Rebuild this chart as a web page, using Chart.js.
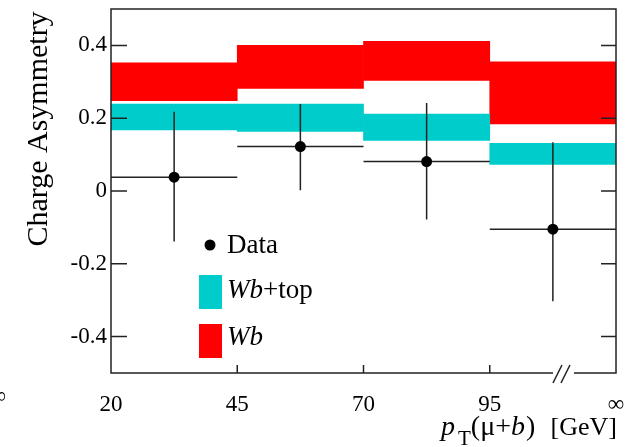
<!DOCTYPE html>
<html>
<head>
<meta charset="utf-8">
<script src="https://cdn.jsdelivr.net/npm/chart.js@4.4.1/dist/chart.umd.min.js"></script>
<style>
  html, body { margin: 0; padding: 0; background: #fff; }
  #wrap { width: 630px; height: 447px; position: relative; }
</style>
</head>
<body>
<div id="wrap"><canvas id="chart"></canvas></div>
<script>
// pT(mu+b) bins 20-45, 45-70, 70-95, 95-inf, drawn with equal width (0..4)
const binCenters = [0.5, 1.5, 2.5, 3.5];
const binHalfWidth = 0.5;
const xTickValues = [0, 1, 2, 3, 4];
const xTickLabels = ['20', '45', '70', '95', '∞'];
const yTickValues = [-0.4, -0.2, 0, 0.2, 0.4];

// measured charge asymmetry with errors
const dataValues = [0.038, 0.122, 0.081, -0.105];
const dataHigh = [0.218, 0.239, 0.242, 0.134];
const dataLow = [-0.139, 0.002, -0.078, -0.303];

// predictions (bands)
const wbLow = [0.248, 0.282, 0.304, 0.184];
const wbHigh = [0.352, 0.400, 0.411, 0.355];
const wbTopLow = [0.168, 0.164, 0.139, 0.073];
const wbTopHigh = [0.239, 0.239, 0.211, 0.131];

const FONT = "'Liberation Serif', 'DejaVu Serif', serif";
const LINE = '#222';
const RED = '#ff0000';
const CYAN = '#00cccc';

// error bars, frame, ticks, axis break, legend and titles
const decorations = {
    id: 'decorations',
    beforeDatasetDraw(chart, args) {
        if (args.index !== 0) return;
        const { ctx, scales: { x, y } } = chart;
        ctx.save();
        ctx.strokeStyle = LINE;
        ctx.lineWidth = 1.5;
        binCenters.forEach((c, i) => {
            const yc = y.getPixelForValue(dataValues[i]);
            const xc = x.getPixelForValue(c);
            ctx.beginPath();
            ctx.moveTo(x.getPixelForValue(c - binHalfWidth), yc);
            ctx.lineTo(x.getPixelForValue(c + binHalfWidth), yc);
            ctx.moveTo(xc, y.getPixelForValue(dataHigh[i]));
            ctx.lineTo(xc, y.getPixelForValue(dataLow[i]));
            ctx.stroke();
        });
        ctx.restore();
    },
    afterDraw(chart) {
        const { ctx, chartArea: a, scales: { x, y } } = chart;
        ctx.save();

        // frame
        ctx.strokeStyle = LINE;
        ctx.lineWidth = 1.5;
        ctx.strokeRect(a.left, a.top, a.right - a.left, a.bottom - a.top);

        // inward ticks
        ctx.beginPath();
        yTickValues.forEach(v => {
            const py = y.getPixelForValue(v);
            ctx.moveTo(a.left, py); ctx.lineTo(a.left + 16, py);
            ctx.moveTo(a.right, py); ctx.lineTo(a.right - 15, py);
        });
        xTickValues.slice(1, -1).forEach(v => {
            const px = x.getPixelForValue(v);
            ctx.moveTo(px, a.bottom); ctx.lineTo(px, a.bottom - 8);
        });
        ctx.stroke();

        // axis break "//"
        const bx = x.getPixelForValue(3.58);
        ctx.fillStyle = '#fff';
        ctx.fillRect(bx - 10, a.bottom - 2, 21, 4);
        ctx.beginPath();
        ctx.moveTo(bx - 10, a.bottom + 10); ctx.lineTo(bx - 1, a.bottom - 8);
        ctx.moveTo(bx - 2, a.bottom + 10); ctx.lineTo(bx + 7, a.bottom - 8);
        ctx.stroke();

        // legend
        ctx.fillStyle = '#000';
        ctx.beginPath();
        ctx.arc(210, 245, 5.5, 0, Math.PI * 2);
        ctx.fill();
        ctx.fillStyle = CYAN;
        ctx.fillRect(199, 275, 23, 34);
        ctx.fillStyle = RED;
        ctx.fillRect(199, 324, 23, 34);

        ctx.fillStyle = '#000';
        ctx.textBaseline = 'alphabetic';
        ctx.textAlign = 'left';
        ctx.font = `27px ${FONT}`;
        ctx.fillText('Data', 227, 253);
        ctx.font = `italic 27px ${FONT}`;
        ctx.fillText('Wb', 227, 298);
        const w = ctx.measureText('Wb').width;
        ctx.font = `27px ${FONT}`;
        ctx.fillText('+top', 227 + w, 298);
        ctx.font = `italic 27px ${FONT}`;
        ctx.fillText('Wb', 227, 345);

        // x title: p_T(mu+b) [GeV]
        const parts = [
            { t: 'p', f: `italic 28px ${FONT}`, dy: 0, gap: 3 },
            { t: 'T', f: `21px ${FONT}`, dy: 10, gap: 0 },
            { t: '(μ+', f: `28px ${FONT}`, dy: 0, gap: 0 },
            { t: 'b', f: `italic 28px ${FONT}`, dy: 0, gap: 1 },
            { t: ')', f: `28px ${FONT}`, dy: 0, gap: 0 }
        ];
        let px = 441;
        parts.forEach(p => {
            ctx.font = p.f;
            ctx.fillText(p.t, px, 435 + p.dy);
            px += ctx.measureText(p.t).width + p.gap;
        });
        ctx.font = `26px ${FONT}`;
        ctx.textAlign = 'right';
        ctx.fillText('[GeV]', a.right + 1, 435);

        // y title
        ctx.save();
        ctx.translate(47, 129);
        ctx.rotate(-Math.PI / 2);
        ctx.textAlign = 'center';
        ctx.font = `30px ${FONT}`;
        ctx.fillText('Charge Asymmetry', 0, 0);
        ctx.restore();

        // clipped label from the neighbouring panel
        ctx.font = `23px ${FONT}`;
        ctx.textAlign = 'right';
        ctx.fillText('∞', 6, 403);

        ctx.restore();
    }
};

const bandData = (lo, hi) => binCenters.map((c, i) => ({ x: c, y: [lo[i], hi[i]] }));

new Chart(document.getElementById('chart'), {
    type: 'scatter',
    data: {
        datasets: [
            {
                label: 'Data',
                data: binCenters.map((c, i) => ({ x: c, y: dataValues[i] })),
                pointRadius: 5.5,
                pointBackgroundColor: '#000',
                pointBorderWidth: 0
            },
            {
                type: 'bar',
                label: 'Wb+top',
                data: bandData(wbTopLow, wbTopHigh),
                backgroundColor: CYAN,
                borderWidth: 0,
                grouped: false,
                barPercentage: 1,
                categoryPercentage: 1
            },
            {
                type: 'bar',
                label: 'Wb',
                data: bandData(wbLow, wbHigh),
                backgroundColor: RED,
                borderWidth: 0,
                grouped: false,
                barPercentage: 1,
                categoryPercentage: 1
            }
        ]
    },
    options: {
        responsive: true,
        maintainAspectRatio: false,
        animation: false,
        layout: { padding: { left: 0, right: 14, top: 9, bottom: 0 } },
        plugins: {
            legend: { display: false },
            tooltip: { enabled: false }
        },
        scales: {
            x: {
                type: 'linear',
                min: 0,
                max: 4,
                offset: false,
                grid: { display: false, drawTicks: false },
                border: { display: false },
                afterBuildTicks: s => { s.ticks = xTickValues.map(v => ({ value: v })); },
                afterFit: s => { s.height = 74; s.paddingLeft = 0; s.paddingRight = 0; },
                ticks: {
                    padding: 18,
                    color: '#000',
                    font: { family: FONT, size: 23 },
                    maxRotation: 0,
                    callback: v => xTickLabels[xTickValues.indexOf(v)]
                }
            },
            y: {
                min: -0.5,
                max: 0.5,
                grid: { display: false, drawTicks: false },
                border: { display: false },
                afterBuildTicks: s => { s.ticks = yTickValues.map(v => ({ value: v })); },
                afterFit: s => { s.width = 111; s.paddingTop = 0; s.paddingBottom = 0; },
                ticks: {
                    padding: 4,
                    color: '#000',
                    font: { family: FONT, size: 23 },
                    callback: v => (Math.abs(v) < 1e-9 ? '0' : v.toFixed(1))
                }
            }
        }
    },
    plugins: [decorations]
});
</script>
</body>
</html>
